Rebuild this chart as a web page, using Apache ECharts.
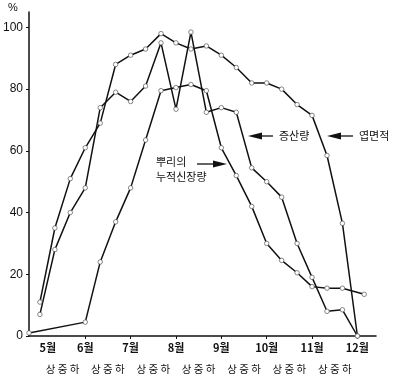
<!DOCTYPE html>
<html>
<head>
<meta charset="utf-8">
<script src="https://cdn.jsdelivr.net/npm/echarts@6/dist/echarts.min.js"></script>
<style>
html,body{margin:0;padding:0;background:#fff;}
#chart{width:400px;height:385px;}
</style>
</head>
<body>
<div id="chart"></div>
<script>
// x values in month units (5 = 5월 start, dekad steps of 1/3 month)
const dekadX = [5, 5.33, 5.67, 6, 6.33, 6.67, 7, 7.33, 7.67, 8, 8.33, 8.67, 9, 9.33, 9.67, 10, 10.33, 10.67, 11, 11.33, 11.67, 12];
// 엽면적 (leaf area, %)
const leafArea = [11, 35, 51, 61, 69, 88, 91, 93, 98, 95, 93, 94, 91, 87, 82, 82, 80, 75, 71.5, 58.5, 36.5, 0];
// 증산량 (transpiration, %)
const transpiration = [7, 28, 40, 48, 74, 79, 76, 81, 95, 73.5, 98.5, 72.5, 74, 72.5, 54.5, 50, 45, 30, 19, 8, 8.5, 0];
// 뿌리의 누적신장량 (root cumulative elongation, %)
const rootX = [4.76, 6, 6.33, 6.67, 7, 7.33, 7.67, 8, 8.33, 8.67, 9, 9.33, 9.67, 10, 10.33, 10.67, 11, 11.33, 11.67, 12.15];
const rootGrowth = [1, 4.5, 24, 37, 48, 63.5, 79.5, 80.5, 81.5, 79.5, 61, 52, 42, 30, 24.5, 20.5, 16, 15.5, 15.5, 13.5];

const monthLabelValues = [5, 6, 7, 8, 9, 10, 11, 12];
const monthTickValues = [6, 7, 8, 9, 10, 11, 12];
const dekadGroupCenters = [5.5, 6.5, 7.5, 8.5, 9.5, 10.5, 11.5];
const dekadGroupLabel = '상 중 하';
const yTickValues = [0, 20, 40, 60, 80, 100];

const X_MIN = 4.76, X_MAX = 12.41, Y_MIN = 0, Y_MAX = 105;

function pairs(xs, ys) { return xs.map((x, i) => [x, ys[i]]); }

const INK = '#111';
const FONT_KR = '"Noto Sans CJK KR", "Noto Sans", sans-serif';
const FONT_NUM = '"Liberation Sans", Arial, sans-serif';

function lineSeries(name, data) {
  return {
    name: name,
    type: 'line',
    data: data,
    symbol: 'circle',
    symbolSize: 4.5,
    showSymbol: true,
    lineStyle: { color: INK, width: 1.5 },
    itemStyle: { color: '#fff', borderColor: '#555', borderWidth: 0.7 },
    animation: false,
    z: 3
  };
}

// arrow pointing left: tip at tipX, shaft extends right to shaftEnd
function arrowLeft(tipX, y, shaftEnd) {
  return {
    type: 'group',
    children: [
      { type: 'polygon', shape: { points: [[tipX, y], [tipX + 14, y - 3.5], [tipX + 14, y + 3.5]] }, style: { fill: INK } },
      { type: 'line', shape: { x1: tipX + 12, y1: y, x2: shaftEnd, y2: y }, style: { stroke: INK, lineWidth: 1.3 } }
    ]
  };
}
// arrow pointing right: tip at tipX, shaft extends left to shaftStart
function arrowRight(tipX, y, shaftStart) {
  return {
    type: 'group',
    children: [
      { type: 'polygon', shape: { points: [[tipX, y], [tipX - 14, y - 3.5], [tipX - 14, y + 3.5]] }, style: { fill: INK } },
      { type: 'line', shape: { x1: shaftStart, y1: y, x2: tipX - 12, y2: y }, style: { stroke: INK, lineWidth: 1.3 } }
    ]
  };
}

function label(text, x, y) {
  return { type: 'text', x: x, y: y, style: { text: text, fill: INK, font: '11px ' + FONT_KR, textVerticalAlign: 'middle' } };
}

const chart = echarts.init(document.getElementById('chart'), null, { renderer: 'canvas' });
chart.setOption({
  animation: false,
  backgroundColor: '#fff',
  grid: { left: 23, right: 24, top: 12, bottom: 49, containLabel: false },
  xAxis: [
    {
      type: 'value', min: X_MIN, max: X_MAX,
      axisLine: { show: true, lineStyle: { color: INK, width: 1.5 } },
      axisTick: { show: true, length: 3, inside: false, customValues: monthTickValues, lineStyle: { color: INK, width: 1 } },
      axisLabel: {
        show: true, margin: 6, customValues: monthLabelValues,
        color: INK, fontSize: 11, fontWeight: 'bold', fontFamily: FONT_KR,
        formatter: function (v) { return v === 5 ? '{f|' + v + '월}' : v + '월'; },
        rich: { f: { padding: [0, 0, 0, 16], fontSize: 11, fontWeight: 'bold', fontFamily: FONT_KR, color: INK } }
      },
      splitLine: { show: false }
    },
    {
      type: 'value', min: X_MIN, max: X_MAX, position: 'bottom',
      axisLine: { show: false }, axisTick: { show: false }, splitLine: { show: false },
      axisLabel: {
        show: true, margin: 28, customValues: dekadGroupCenters,
        color: INK, fontSize: 10.5, fontFamily: FONT_KR,
        formatter: function () { return dekadGroupLabel; }
      }
    }
  ],
  yAxis: {
    type: 'value', min: Y_MIN, max: Y_MAX,
    axisLine: { show: true, lineStyle: { color: INK, width: 1.5 } },
    axisTick: { show: true, length: 3, inside: false, customValues: yTickValues, lineStyle: { color: INK } },
    axisLabel: { show: true, margin: 6, customValues: yTickValues, color: INK, fontSize: 12, fontFamily: FONT_NUM },
    splitLine: { show: false }
  },
  graphic: [
    { type: 'text', x: 8, y: 8, style: { text: '%', fill: INK, font: '11px ' + FONT_NUM, textVerticalAlign: 'middle' } },
    arrowLeft(248, 136, 273),
    label('증산량', 279, 136),
    arrowLeft(327, 136, 353),
    label('엽면적', 359, 136),
    arrowRight(227, 164, 197),
    label('뿌리의', 156, 162),
    label('누적신장량', 156, 177)
  ],
  series: [
    lineSeries('엽면적', pairs(dekadX, leafArea)),
    lineSeries('증산량', pairs(dekadX, transpiration)),
    lineSeries('뿌리의 누적신장량', pairs(rootX, rootGrowth))
  ]
});
</script>
</body>
</html>
